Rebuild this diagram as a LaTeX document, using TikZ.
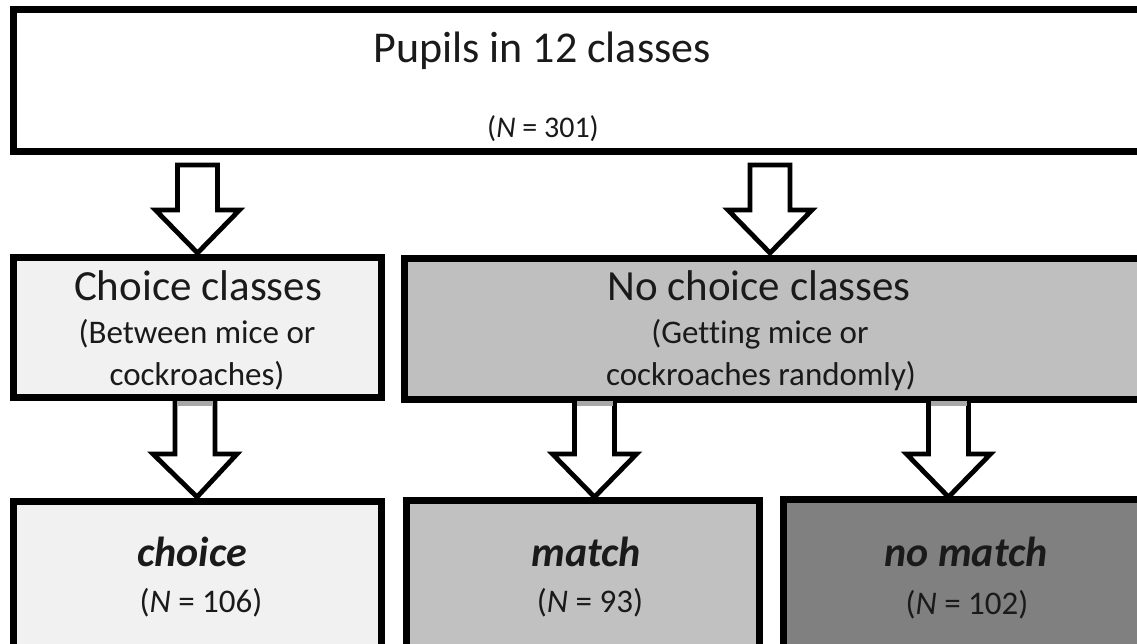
\documentclass[tikz,border=0pt]{standalone}
\usepackage{fontspec}
\setmainfont{Carlito}[Ligatures=NoCommon]
\usetikzlibrary{calc}
\definecolor{choicefill}{HTML}{F1F1F1}
\definecolor{ncfill}{HTML}{BFBFBF}
\definecolor{matchfill}{HTML}{C1C1C1}
\definecolor{nmfill}{HTML}{808080}
\definecolor{shadegray}{HTML}{A8A8A8}
\definecolor{txt}{HTML}{1A1A1A}
\newcommand\fsz[1]{\fontsize{#1}{#1}\selectfont}
\tikzset{
  box/.style={draw=black, line width=7pt, rectangle, inner sep=0pt, outer sep=0pt},
  barrow/.style={draw=black, fill=white, line width=4.8pt, line join=miter},
  title/.style={anchor=base, inner sep=0pt, text=txt, font=\fsz{43}},
  sub/.style={anchor=base, inner sep=0pt, text=txt, font=\fsz{33}},
  grp/.style={anchor=base, inner sep=0pt, text=txt, font=\fsz{42}\bfseries\itshape},
}
% block arrow: #1 = name of start coordinate, #2 = name of tip coordinate
\newcommand\blockarrow[2]{%
  \draw[barrow] let \p1=(#1), \p2=(#2) in
    (\x1-20pt,\y1) -- (\x1+20pt,\y1) -- (\x1+20pt,\y2+43pt) -- (\x1+42pt,\y2+43pt)
    -- (\x2,\y2) -- (\x1-42pt,\y2+43pt) -- (\x1-20pt,\y2+43pt) -- cycle;}
\newcommand\stubshade[1]{%
  \fill[shadegray] let \p1=(#1) in (\x1-18pt,\y1) rectangle (\x1+18pt,\y1-5pt);}
\begin{document}
\begin{tikzpicture}[x=1pt,y=-1pt]
\useasboundingbox (0,0) rectangle (1137,643);
\fill[white] (0,0) rectangle (1137,643);
\clip (0,0) rectangle (1137,643);

% boxes
\node[box, fill=white, minimum width=1137pt, minimum height=142pt] (top) at (581.5,80.5) {};
\node[box, fill=choicefill, minimum width=368pt, minimum height=140pt] (choicecl) at (197.5,327) {};
\node[box, fill=ncfill, minimum width=745pt, minimum height=141pt] (nochoicecl) at (777,328.5) {};
\node[box, fill=choicefill, minimum width=368pt, minimum height=159pt] (choice) at (197.5,580.5) {};
\node[box, fill=matchfill, minimum width=353.5pt, minimum height=160pt] (match) at (583,580) {};
\node[box, fill=nmfill, minimum width=366.5pt, minimum height=161pt] (nomatch) at (966.5,579.5) {};

% arrow coordinates
\coordinate (a1s) at (197.5,165);  \coordinate (a1t) at (197.5,253);
\coordinate (a2s) at (770,165);    \coordinate (a2t) at (770,253);
\coordinate (a3s) at (195,401);    \coordinate (a3t) at (197,497);
\coordinate (a4s) at (594.5,401);  \coordinate (a4t) at (594.5,497);
\coordinate (a5s) at (948.5,401);  \coordinate (a5t) at (948.5,497);

\blockarrow{a1s}{a1t}
\blockarrow{a2s}{a2t}
\blockarrow{a3s}{a3t}
\blockarrow{a4s}{a4t}
\blockarrow{a5s}{a5t}
\stubshade{a3s}
\stubshade{a4s}
\stubshade{a5s}

% texts
\node[title, font=\fsz{44}] (toptitle) at (542,62) {Pupils in 12 classes};
\node[sub, font=\fsz{30}] (topn) at (543,137) {(\textit{N} = 301)};

\node[title] (choicet) at (198,300) {Choice classes};
\node[sub] (choice1) at (197,343) {(Between mice or};
\node[sub] (choice2) at (197,385) {cockroaches)};

\node[title] (nochoicet) at (759,300) {No choice classes};
\node[sub] (nochoice1) at (760,343) {(Getting mice or};
\node[sub] (nochoice2) at (761,385) {cockroaches randomly)};

\node[grp] (choiceg) at (192,566) {choice};
\node[sub] (choicen) at (201,612) {(\textit{N} = 106)};

\node[grp] (matchg) at (586,566) {match};
\node[sub] (matchn) at (590,612) {(\textit{N} = 93)};

\node[grp] (nomatchg) at (966,566) {no match};
\node[sub] (nomatchn) at (967,614) {(\textit{N} = 102)};
\end{tikzpicture}
\end{document}
